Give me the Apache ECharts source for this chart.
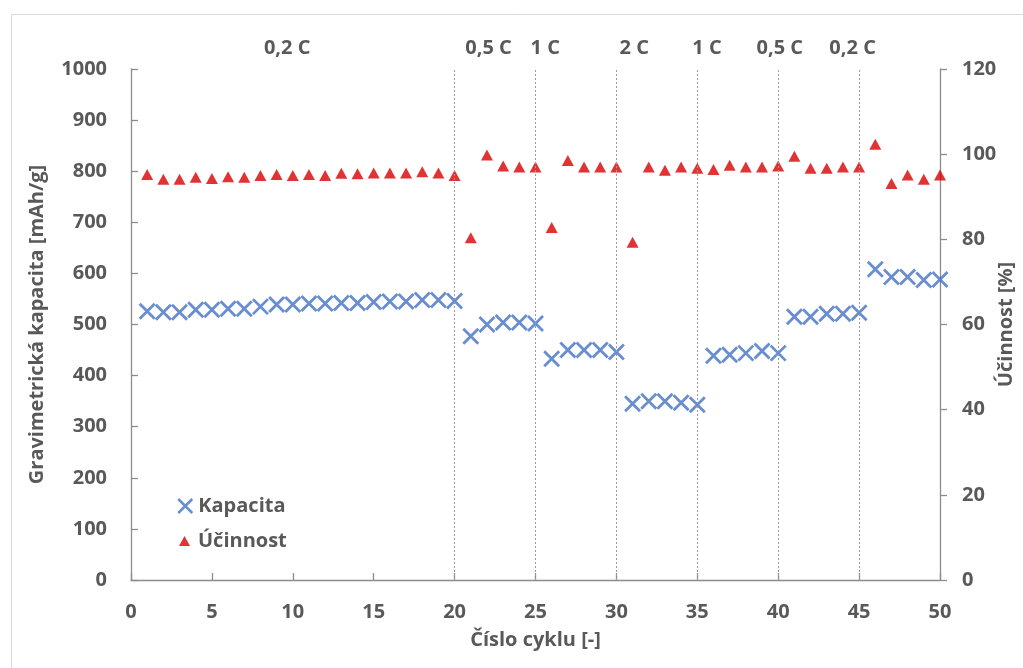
<!DOCTYPE html>
<html>
<head>
<meta charset="utf-8">
<script src="https://cdn.jsdelivr.net/npm/echarts@6/dist/echarts.min.js"></script>
<style>
html,body{margin:0;padding:0;background:#fff;}
#c{width:1023px;height:668px;}
</style>
</head>
<body>
<div id="c"></div>
<script>
const cycles = [1,2,3,4,5,6,7,8,9,10,11,12,13,14,15,16,17,18,19,20,21,22,23,24,25,26,27,28,29,30,31,32,33,34,35,36,37,38,39,40,41,42,43,44,45,46,47,48,49,50];
const capacity = [526,524,524,529,529,531,531,535,539,539,541,541,542,542,544,545,545,548,548,546,
  477,500,504,504,502,433,450,450,450,446,345,350,350,347,343,439,441,444,448,444,
  515,515,521,521,523,608,593,593,587,588];
const efficiency = [95.2,94.1,94.1,94.6,94.3,94.7,94.6,95.0,95.2,95.0,95.2,95.0,95.5,95.4,95.6,95.6,95.6,95.9,95.6,95.0,
  80.4,99.8,97.2,97.0,97.0,82.8,98.5,97.0,97.0,97.0,79.3,97.0,96.2,97.0,96.7,96.4,97.4,97.0,97.0,97.2,
  99.5,96.7,96.7,97.0,97.0,102.3,93.1,95.1,94.1,95.1];
const boundaries = [20,25,30,35,40,45];
const rateLabels = ['0,2 C','0,5 C','1 C','2 C','1 C','0,5 C','0,2 C'];
const rateLabelX = [9.65,22.1,25.6,31.1,35.6,40.1,44.6];
const seriesNames = ['Kapacita','Účinnost'];

const FONT = '"Open Sans"';
const FS = 20;
const TXT = '#595959';
const AX = '#8c8c8c';
const BLUE = '#4472C4';
const RED = '#D90000';
const XSYM = 'path://M0,0L10,10M10,0L0,10';

const chart = echarts.init(document.getElementById('c'), null, {renderer:'canvas'});
const capData = cycles.map((c,i)=>[c,capacity[i]]);
const effData = cycles.map((c,i)=>[c,efficiency[i]]);
const txt = {fontFamily:FONT,fontWeight:'bold',fontSize:FS,color:TXT};

const option = {
  backgroundColor:'#fff',
  animation:false,
  textStyle:{fontFamily:FONT},
  grid:{left:131,right:83,top:69,bottom:88,containLabel:false,outerBoundsMode:'none'},
  legend:[
    {data:[{name:seriesNames[0],icon:XSYM}],left:172,top:491,padding:5,itemWidth:14,itemHeight:14,
     textStyle:Object.assign({},txt,{padding:[0,0,0,1]}),
     itemStyle:{color:BLUE,borderColor:BLUE,borderWidth:2.5}},
    {data:[{name:seriesNames[1],icon:'triangle'}],left:174,top:526,padding:5,itemWidth:11,itemHeight:10,
     textStyle:Object.assign({},txt,{padding:[0,0,0,3]})}
  ],
  xAxis:{type:'value',min:0,max:50,interval:5,
    name:'Číslo cyklu [-]',nameLocation:'middle',nameGap:50,nameMoveOverlap:false,
    nameTextStyle:txt,
    axisLine:{lineStyle:{color:AX,width:1.3}},
    axisTick:{inside:true,length:7,lineStyle:{color:AX,width:1.3}},
    axisLabel:Object.assign({},txt,{margin:22}),
    splitLine:{show:false}},
  yAxis:[
    {type:'value',min:0,max:1000,interval:100,position:'left',
     name:'Gravimetrická kapacita [mAh/g]',nameLocation:'middle',nameGap:84,nameRotate:90,nameMoveOverlap:false,
     nameTextStyle:txt,
     axisLine:{show:true,lineStyle:{color:AX,width:1.3}},
     axisTick:{show:true,inside:true,length:7,lineStyle:{color:AX,width:1.3}},
     axisLabel:Object.assign({},txt,{margin:24,formatter:v=>String(v)}),
     splitLine:{show:false}},
    {type:'value',min:0,max:120,interval:20,position:'right',
     name:'Účinnost [%]',nameLocation:'middle',nameGap:56,nameRotate:90,nameMoveOverlap:false,
     nameTextStyle:txt,
     axisLine:{show:true,lineStyle:{color:AX,width:1.3}},
     axisTick:{show:true,inside:false,length:7,lineStyle:{color:AX,width:1.3}},
     axisLabel:Object.assign({},txt,{margin:22,formatter:v=>String(v)}),
     splitLine:{show:false}}
  ],
  series:[
    {name:seriesNames[0],type:'scatter',yAxisIndex:0,data:capData,
     symbol:XSYM,symbolSize:15,
     itemStyle:{color:BLUE,borderColor:BLUE,borderWidth:2.8},
     markLine:{silent:true,symbol:'none',label:{show:false},
       lineStyle:{color:'#9a9a9a',type:[2,2],width:1},
       data:boundaries.map(b=>({xAxis:b}))},
     z:3},
    {name:seriesNames[1],type:'scatter',yAxisIndex:1,data:effData,
     symbol:'triangle',symbolSize:[12,11],
     itemStyle:{color:RED},z:4}
  ],
  graphic:[
    {type:'rect',left:9,top:12,shape:{width:1030,height:670},
     style:{fill:'none',stroke:'#d9d9d9',lineWidth:1},silent:true,z:-10}
  ]
};
chart.setOption(option);

const gfx = option.graphic.slice();
rateLabels.forEach((t,i)=>{
  const px = chart.convertToPixel({xAxisIndex:0},rateLabelX[i]);
  gfx.push({type:'text',x:px,y:48,
    style:{text:t,fill:TXT,font:'bold '+FS+'px '+FONT,textAlign:'center',textVerticalAlign:'middle'}});
});
chart.setOption({graphic:gfx});
</script>
</body>
</html>
